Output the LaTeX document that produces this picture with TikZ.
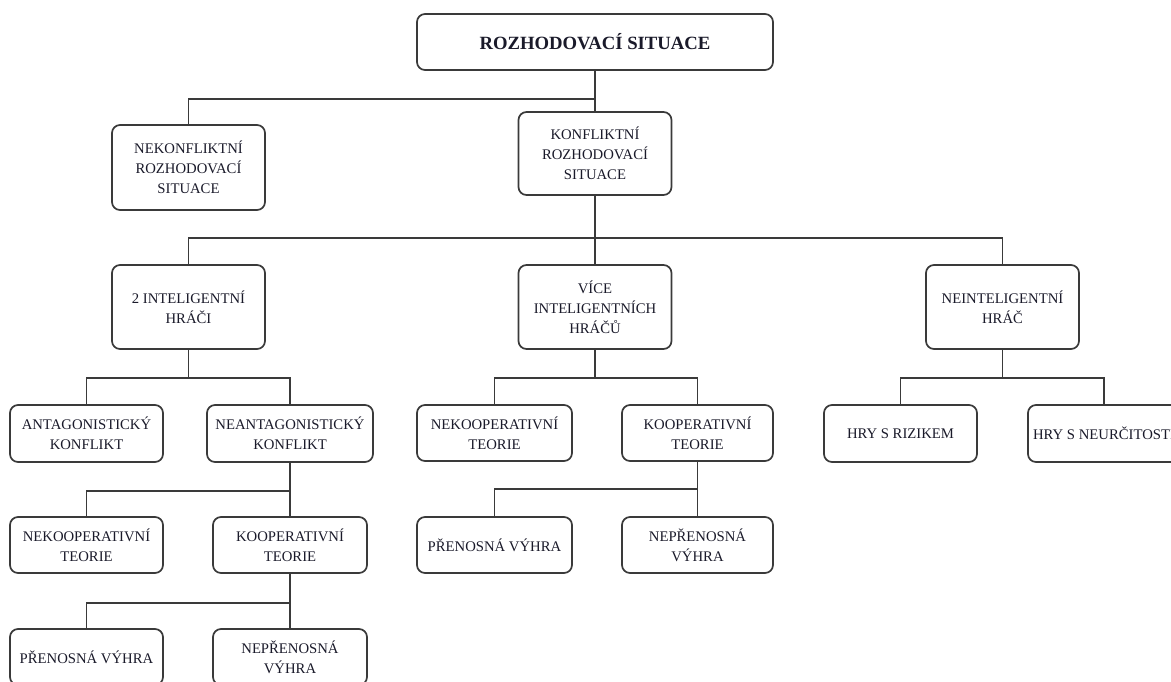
\documentclass[tikz,border=0pt]{standalone}
\usepackage{fontspec}
\setmainfont{Liberation Serif}
\definecolor{linecol}{HTML}{3A3A3A}
\definecolor{txtcol}{HTML}{1A1A2A}
\tikzset{
  box/.style={draw=linecol, line width=1.7pt, rounded corners=8pt, fill=white,
    align=center, inner sep=2pt, text=txtcol,
    font=\fontsize{14.7}{20}\selectfont},
  rootbox/.style={box, font=\fontsize{18.7}{22}\selectfont\bfseries},
  conn/.style={draw=linecol, line width=1.7pt}
}
\begin{document}
\begin{tikzpicture}[x=1pt,y=-1pt]
\useasboundingbox (0,0) rectangle (1171,681);
\clip (0,0) rectangle (1171,681);
% nodes
\node[rootbox, minimum width=356pt, minimum height=56pt] (root) at (595,42) {ROZHODOVACÍ SITUACE};
\node[box, minimum width=153pt, minimum height=85pt] (nek) at (188.5,167.5) {NEKONFLIKTNÍ\\ROZHODOVACÍ\\SITUACE};
\node[box, minimum width=153pt, minimum height=83pt] (konf) at (595,153.5) {KONFLIKTNÍ\\ROZHODOVACÍ\\SITUACE};
\node[box, minimum width=153pt, minimum height=84pt] (int) at (188.5,307) {2 INTELIGENTNÍ\\HRÁČI};
\node[box, minimum width=153pt, minimum height=84pt] (vice) at (595,307) {VÍCE\\INTELIGENTNÍCH\\HRÁČŮ};
\node[box, minimum width=153pt, minimum height=84pt] (neint) at (1002.5,307) {NEINTELIGENTNÍ\\HRÁČ};
% left branch
\node[box, minimum width=153pt, minimum height=57pt] (ant) at (86.5,433.5) {ANTAGONISTICKÝ\\KONFLIKT};
\node[box, minimum width=166pt, minimum height=57pt] (neant) at (290,433.5) {NEANTAGONISTICKÝ\\KONFLIKT};
\node[box, minimum width=153pt, minimum height=56pt] (nekL) at (86.5,545) {NEKOOPERATIVNÍ\\TEORIE};
\node[box, minimum width=154pt, minimum height=56pt] (koopL) at (290,545) {KOOPERATIVNÍ\\TEORIE};
\node[box, minimum width=153pt, minimum height=56pt] (prenL) at (86.5,657) {PŘENOSNÁ VÝHRA};
\node[box, minimum width=154pt, minimum height=56pt] (neprenL) at (290,657) {NEPŘENOSNÁ\\VÝHRA};
% middle branch
\node[box, minimum width=155pt, minimum height=56pt] (nekM) at (494.5,433) {NEKOOPERATIVNÍ\\TEORIE};
\node[box, minimum width=151pt, minimum height=56pt] (koopM) at (697.5,433) {KOOPERATIVNÍ\\TEORIE};
\node[box, minimum width=155pt, minimum height=56pt] (prenM) at (494.5,545) {PŘENOSNÁ VÝHRA};
\node[box, minimum width=151pt, minimum height=56pt] (neprenM) at (697.5,545) {NEPŘENOSNÁ\\VÝHRA};
% right branch
\node[box, minimum width=153pt, minimum height=57pt] (riz) at (900.5,433.5) {HRY S RIZIKEM};
\node[box, minimum width=152pt, minimum height=57pt] (neu) at (1104,433.5) {HRY S NEURČITOSTÍ};
% connectors
\draw[conn] (root.south) -- (konf.north);
\draw[conn] (root.south) -- ++(0,28) -| (nek.north);
\draw[conn] (konf.south) -- (vice.north);
\draw[conn] (konf.south) -- ++(0,42) -| (int.north);
\draw[conn] (konf.south) -- ++(0,42) -| (neint.north);
\draw[conn] (int.south) -- ++(0,28) -| (ant.north);
\draw[conn] (int.south) -- ++(0,28) -| (neant.north);
\draw[conn] (neant.south) -- ++(0,28) -| (nekL.north);
\draw[conn] (neant.south) -- (koopL.north);
\draw[conn] (koopL.south) -- ++(0,29) -| (prenL.north);
\draw[conn] (koopL.south) -- (neprenL.north);
\draw[conn] (vice.south) -- ++(0,28) -| (nekM.north);
\draw[conn] (vice.south) -- ++(0,28) -| (koopM.north);
\draw[conn] (koopM.south) -- ++(0,27) -| (prenM.north);
\draw[conn] (koopM.south) -- (neprenM.north);
\draw[conn] (neint.south) -- ++(0,28) -| (riz.north);
\draw[conn] (neint.south) -- ++(0,28) -| (neu.north);
\end{tikzpicture}
\end{document}
